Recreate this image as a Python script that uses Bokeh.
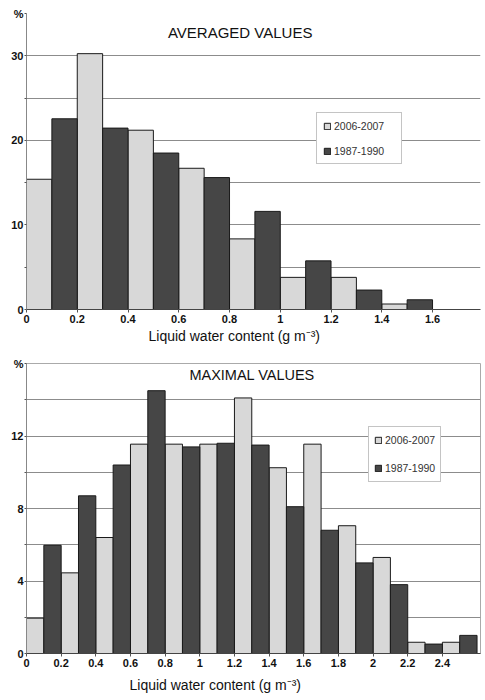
from bokeh.plotting import figure
from bokeh.models import Range1d, FixedTicker, Label, Title
from bokeh.layouts import column
from bokeh.embed import file_html
from bokeh.resources import INLINE

# ---------------- data ----------------
BIN = 0.1
series_names = ["2006-2007", "1987-1990"]

# Averaged values (%)
avg_left_2006 = [0.0, 0.2, 0.4, 0.6, 0.8, 1.0, 1.2, 1.4]
avg_2006 = [15.4, 30.25, 21.2, 16.7, 8.35, 3.8, 3.8, 0.65]
avg_left_1987 = [0.1, 0.3, 0.5, 0.7, 0.9, 1.1, 1.3, 1.5]
avg_1987 = [22.55, 21.45, 18.5, 15.6, 11.6, 5.75, 2.3, 1.15]

# Maximal values (%)
max_left_2006 = [0.0, 0.2, 0.4, 0.6, 0.8, 1.0, 1.2, 1.4, 1.6, 1.8, 2.0, 2.2, 2.4]
max_2006 = [1.95, 4.45, 6.4, 11.55, 11.55, 11.55, 14.1, 10.25, 11.55, 7.05, 5.3, 0.62, 0.62]
max_left_1987 = [0.1, 0.3, 0.5, 0.7, 0.9, 1.1, 1.3, 1.5, 1.7, 1.9, 2.1, 2.3, 2.5]
max_1987 = [5.97, 8.7, 10.4, 14.5, 11.4, 11.6, 11.5, 8.1, 6.8, 5.0, 3.8, 0.52, 1.0]

avg_xticks = [0, 0.2, 0.4, 0.6, 0.8, 1, 1.2, 1.4, 1.6]
avg_xlabels = ["0", "0.2", "0.4", "0.6", "0.8", "1", "1.2", "1.4", "1.6"]
avg_yticks = [0, 5, 10, 15, 20, 25, 30, 35]
avg_ylabels = ["0", "", "10", "", "20", "", "30", "%"]

max_xticks = [0, 0.2, 0.4, 0.6, 0.8, 1, 1.2, 1.4, 1.6, 1.8, 2, 2.2, 2.4]
max_xlabels = ["0", "0.2", "0.4", "0.6", "0.8", "1", "1.2", "1.4", "1.6", "1.8", "2", "2.2", "2.4"]
max_yticks = [0, 2, 4, 6, 8, 10, 12, 14, 16]
max_ylabels = ["0", "", "4", "", "8", "", "12", "", "%"]

title_avg = "AVERAGED VALUES"
title_max = "MAXIMAL VALUES"
xtitle = "Liquid water content (g m\u207b\u00b3)"

# ---------------- style ----------------
LIGHT = "#d8d8d8"
DARK = "#464646"
EDGE = "#1a1a1a"
GRID = "#8c8c8c"
FONT = "Liberation Sans"


def make_panel(height, right_border, xend, yend, top_border, bottom_border, xticks, xlabels,
               yticks, ylabels, l2006, v2006, l1987, v1987, outline):
    p = figure(width=485, height=height, output_backend="svg", toolbar_location=None,
               x_range=Range1d(0, xend), y_range=Range1d(0, yend),
               min_border_left=26, min_border_right=right_border,
               min_border_top=top_border, min_border_bottom=bottom_border)
    p.background_fill_color = "white"
    p.border_fill_color = "white"
    p.outline_line_color = outline
    p.xgrid.grid_line_color = None
    p.ygrid.grid_line_color = GRID
    p.ygrid.grid_line_width = 1

    p.quad(left=l2006, right=[v + BIN for v in l2006], bottom=0, top=v2006,
           fill_color=LIGHT, line_color=EDGE, line_width=1, legend_label=series_names[0])
    p.quad(left=l1987, right=[v + BIN for v in l1987], bottom=0, top=v1987,
           fill_color=DARK, line_color=EDGE, line_width=1, legend_label=series_names[1])

    p.xaxis.ticker = FixedTicker(ticks=xticks)
    p.xaxis.major_label_overrides = dict(zip(xticks, xlabels))
    p.yaxis.ticker = FixedTicker(ticks=yticks)
    p.yaxis.major_label_overrides = dict(zip(yticks, ylabels))
    p.ygrid.ticker = FixedTicker(ticks=yticks)

    for ax in (p.xaxis[0], p.yaxis[0]):
        ax.major_label_text_font = FONT
        ax.major_label_text_font_size = "11px"
        ax.major_label_text_font_style = "bold"
        ax.major_label_text_color = "#111111"
        ax.minor_tick_line_color = None
        ax.major_tick_in = 0
        ax.major_tick_line_color = "#555555"
    p.xaxis.axis_line_color = "#444444"
    p.yaxis.axis_line_color = "#888888"
    p.xaxis.major_tick_out = 3
    p.xaxis.major_label_standoff = 2
    p.yaxis.major_tick_out = 2
    p.yaxis.major_label_standoff = 1

    lg = p.legend[0]
    lg.border_line_color = "#8a8a8a"
    lg.border_line_width = 1
    lg.background_fill_color = "white"
    lg.background_fill_alpha = 1.0
    lg.label_text_font = FONT
    lg.label_text_font_size = "10.5px"
    lg.label_text_color = "#333333"
    lg.glyph_width = 8
    lg.glyph_height = 8
    lg.label_standoff = 3
    lg.margin = 0
    return p, lg


def add_xtitle(p, offset, standoff):
    t = Title(text=xtitle, align="left", offset=offset, standoff=standoff,
              text_font=FONT, text_font_size="14px", text_font_style="normal",
              text_color="#111111")
    p.add_layout(t, "below")


# ---- top panel ----
p1, lg1 = make_panel(344, 0, 1.789, 35, 13, 35, avg_xticks, avg_xlabels, avg_yticks, avg_ylabels,
                     avg_left_2006, avg_2006, avg_left_1987, avg_1987, None)
lg1.padding = 6
lg1.spacing = 12
lg1.label_height = 13
lg1.label_width = 61
lg1.location = (290, 145)
p1.add_layout(Label(x=0.842, y=32.7, text=title_avg, text_align="center", text_baseline="middle",
                    text_font=FONT, text_font_size="15px", text_color="#111111"))
add_xtitle(p1, 122, 0)

# ---- bottom panel ----
p2, lg2 = make_panel(356, 5, 2.62, 16, 19, 47, max_xticks, max_xlabels, max_yticks, max_ylabels,
                     max_left_2006, max_2006, max_left_1987, max_1987, "#aaaaaa")
lg2.padding = 5
lg2.spacing = 12
lg2.label_height = 16
lg2.label_width = 50
lg2.location = (342, 171)
p2.add_layout(Label(x=1.302, y=15.37, text=title_max, text_align="center", text_baseline="middle",
                    text_font=FONT, text_font_size="14.5px", text_color="#111111"))
add_xtitle(p2, 103, 11)

layout = column(p1, p2, spacing=0)
open("out.html", "w").write(file_html(layout, INLINE))
